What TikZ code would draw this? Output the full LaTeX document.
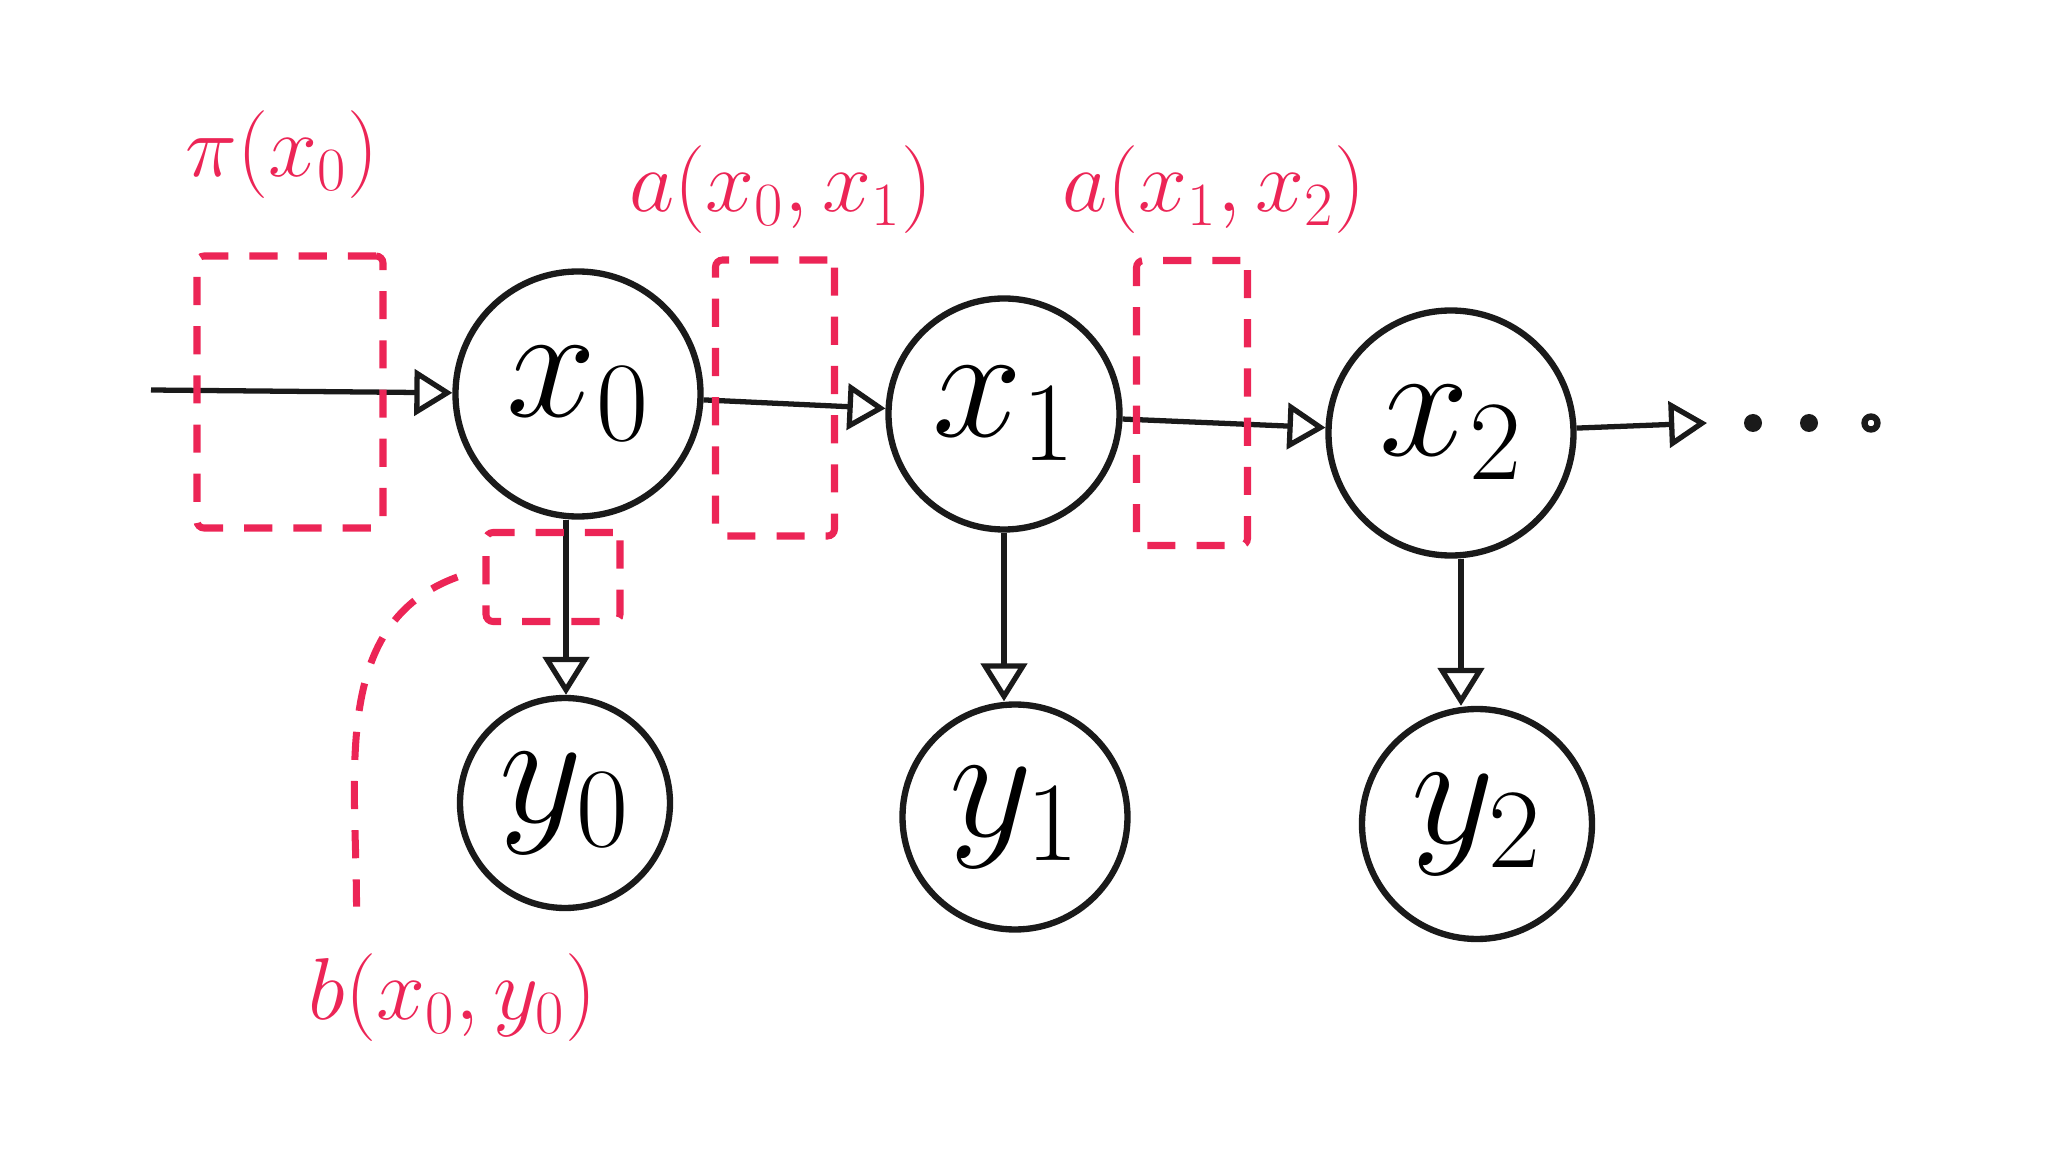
\RequirePackage{fix-cm}
\documentclass[tikz,border=0pt]{standalone}
\usepackage{xcolor}
\usepackage{tikz}
\usepackage{amsmath,amssymb}
\usetikzlibrary{arrows.meta, positioning, calc}
\definecolor{inkblack}{HTML}{1A1A1A}
\definecolor{markerred}{HTML}{EC2556}

\begin{document}
\begin{tikzpicture}[
    state/.style={circle, draw=inkblack, line width=1.8pt, inner sep=0pt,
      font=\fontsize{46}{55}\selectfont},
    link/.style={draw=inkblack, line width=1.5pt,
      -{Triangle[open, length=0.38cm, width=0.46cm, line width=1.5pt]}},
    redbox/.style={draw=markerred, line width=2pt, dash pattern=on 8pt off 6pt,
      rounded corners=2pt, inner sep=0pt},
    redlabel/.style={text=markerred, font=\fontsize{25}{30}\selectfont}]
    \useasboundingbox (0,0) rectangle (20.48,-11.52);

    % Hidden states
    \node[state, minimum size=2.45cm] (x0) at (5.78,-3.94) {$x_0$};
    \node[state, minimum size=2.31cm] (x1) at (10.04,-4.14) {$x_1$};
    \node[state, minimum size=2.45cm] (x2) at (14.51,-4.33) {$x_2$};

    % Observations
    \node[state, minimum size=2.10cm] (y0) at (5.65,-8.03) {$y_0$};
    \node[state, minimum size=2.25cm] (y1) at (10.15,-8.17) {$y_1$};
    \node[state, minimum size=2.30cm] (y2) at (14.77,-8.24) {$y_2$};

    % Transitions
    \coordinate (start) at (1.51,-3.90);
    \coordinate (tail) at (17.07,-4.23);
    \draw[link] (start) -- (x0);
    \draw[link] (x0) -- (x1);
    \draw[link] (x1) -- (x2);
    \draw[link] (x2) -- (tail);

    % Emissions
    \draw[link] ([xshift=-0.12cm]x0.south) -- ([xshift=-0.12cm]x0.south |- y0.north);
    \draw[link] (x1.south) -- (x1.south |- y1.north);
    \draw[link] ([xshift=0.1cm]x2.south) -- ([xshift=0.1cm]x2.south |- y2.north);

    % Trailing dots
    \fill[inkblack] (17.53,-4.23) circle (0.09);
    \fill[inkblack] (18.09,-4.23) circle (0.09);
    \draw[inkblack, line width=1.8pt] (18.71,-4.23) circle (0.065);

    % Parameter boxes
    \node[redbox, minimum width=1.86cm, minimum height=2.72cm] (pibox) at (2.90,-3.92) {};
    \node[redbox, minimum width=1.19cm, minimum height=2.76cm] (abox01) at (7.75,-3.98) {};
    \node[redbox, minimum width=1.11cm, minimum height=2.85cm] (abox12) at (11.92,-4.03) {};
    \node[redbox, minimum width=1.34cm, minimum height=0.89cm] (bbox) at (5.53,-5.77) {};

    % Parameter labels
    \node[redlabel] (pilabel) at (2.82,-1.55) {$\pi(x_0)$};
    \node[redlabel] (alabel01) at (7.81,-1.90) {$a(x_0,x_1)$};
    \node[redlabel] (alabel12) at (12.14,-1.90) {$a(x_1,x_2)$};
    \node[redlabel] (blabel) at (4.53,-9.98) {$b(x_0,y_0)$};
    \draw[markerred, line width=2pt, dash pattern=on 8pt off 6pt]
      ([xshift=-0.25cm]bbox.west) to[out=200, in=90]
      ($(blabel.north west)+(0.6,0.35)$);
\end{tikzpicture}
\end{document}
